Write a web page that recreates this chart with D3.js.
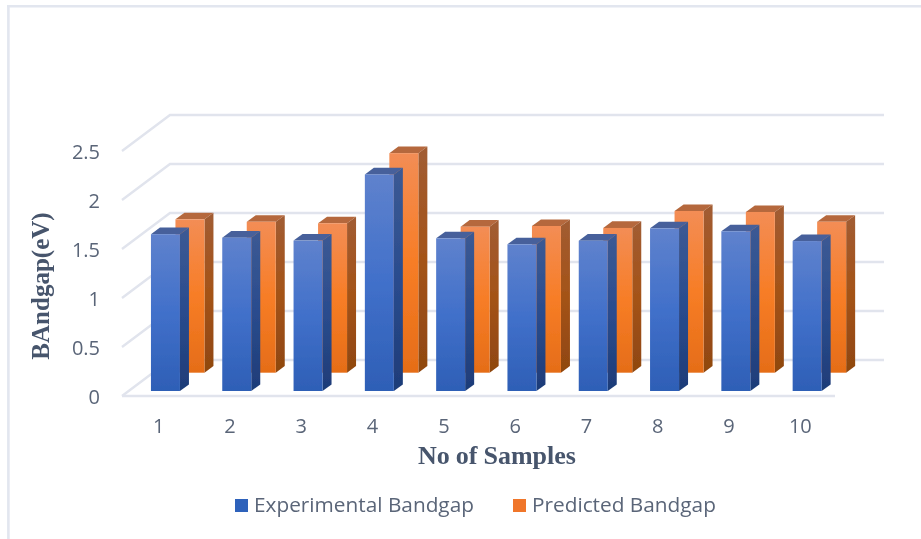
<!DOCTYPE html>
<html><head><meta charset="utf-8">
<script src="https://cdn.jsdelivr.net/npm/d3@7"></script>
<style>html,body{margin:0;background:#fff}svg{display:block}text{fill:#5a6578}</style></head>
<body><svg id="c" width="921" height="539"></svg>
<script>
const categories = ["1","2","3","4","5","6","7","8","9","10"];
const experimental = [1.60,1.565,1.535,2.21,1.558,1.497,1.534,1.66,1.63,1.53];
const predicted = [1.565,1.54,1.525,2.24,1.49,1.497,1.477,1.65,1.64,1.54];
const yTicks = [0,0.5,1,1.5,2,2.5];
const seriesNames = ["Experimental Bandgap","Predicted Bandgap"];

const svg=d3.select("#c");
const depthX=48, depthY=-36;
const barDX=9, barDY=-6.6;
const rowDX=24.5, rowDY=-18.3;
const x=d3.scaleBand().domain(categories).range([122,835]);
const yFront=d3.scaleLinear().domain([0,2.5]).range([396,151]);
const barW=29, barBase=391, barShift=7.8, labelShift=1;
const barH=v=>yFront(0)-yFront(v);

const defs=svg.append("defs");
function grad(id,stops){
  const g=defs.append("linearGradient").attr("id",id).attr("x1",0).attr("x2",0).attr("y1",0).attr("y2",1);
  stops.forEach(([o,c])=>g.append("stop").attr("offset",o).attr("stop-color",c));
}
grad("bf",[[0,"#5f82cd"],[0.5,"#4170ca"],[1,"#2e5fb6"]]);
grad("bs",[[0,"#3c5a94"],[0.5,"#2a4c8e"],[1,"#1e3c78"]]);
grad("of",[[0,"#f38d55"],[0.5,"#f77d26"],[1,"#e56d18"]]);
grad("os",[[0,"#a15c33"],[0.5,"#a45318"],[1,"#8f4710"]]);
defs.append("filter").attr("id","soft").attr("x","-5%").attr("y","-5%").attr("width","110%").attr("height","110%")
  .append("feGaussianBlur").attr("stdDeviation",0.45);

const root=svg.append("g").attr("filter","url(#soft)");
root.append("rect").attr("width",921).attr("height",539).attr("fill","#fff");

// frame
root.append("line").attr("x1",7).attr("x2",921).attr("y1",6.3).attr("y2",6.3).attr("stroke","#e2e6ef").attr("stroke-width",2.6);
root.append("line").attr("x1",8.4).attr("x2",8.4).attr("y1",5).attr("y2",539).attr("stroke","#e2e6ef").attr("stroke-width",2.6);

// gridlines
const grid=root.append("g").attr("fill","none").attr("stroke","#e1e4ed").attr("stroke-width",2.4);
yTicks.forEach(t=>{
  const y=yFront(t);
  grid.append("path").attr("d",d3.line()([[122,y],[122+depthX,y+depthY],[884,y+depthY]]));
});
grid.append("line").attr("x1",122).attr("x2",835).attr("y1",396).attr("y2",396);

function bar(g,xl,base,h,ids,topCol){
  const top=base-h;
  g.append("path").attr("d",d3.line()([[xl,top],[xl+barDX,top+barDY],[xl+barW+barDX,top+barDY],[xl+barW,top]])+"Z").attr("fill",topCol);
  g.append("path").attr("d",d3.line()([[xl+barW,top],[xl+barW+barDX,top+barDY],[xl+barW+barDX,base+barDY],[xl+barW,base]])+"Z").attr("fill",`url(#${ids[1]})`);
  g.append("rect").attr("x",xl).attr("y",top).attr("width",barW).attr("height",h).attr("fill",`url(#${ids[0]})`);
}
const g=root.append("g");
categories.forEach((c,i)=>{
  const xl=x(c)+(x.bandwidth()-barW)/2+rowDX+barShift;
  bar(g,xl,barBase+rowDY,barH(predicted[i]),["of","os"],"#b5683c");
});
categories.forEach((c,i)=>{
  const xl=x(c)+(x.bandwidth()-barW)/2+barShift;
  bar(g,xl,barBase,barH(experimental[i]),["bf","bs"],"#46619b");
});

const tickFont='"Open Sans",sans-serif';
const serif='"Liberation Serif",serif';
root.append("g").selectAll("text").data(yTicks).join("text")
  .attr("x",100).attr("y",t=>yFront(t)+7.5).attr("text-anchor","end")
  .attr("font-family",tickFont).attr("font-size",20).text(d=>d);
root.append("g").selectAll("text").data(categories).join("text")
  .attr("x",c=>x(c)+x.bandwidth()/2+labelShift).attr("y",433).attr("text-anchor","middle")
  .attr("font-family",tickFont).attr("font-size",20).text(d=>d);
root.append("text").attr("transform","translate(49,286) rotate(-90)").attr("text-anchor","middle")
  .attr("font-family",serif).attr("font-weight","bold").attr("font-size",25).style("fill","#46546c").text("BAndgap(eV)");
root.append("text").attr("x",497).attr("y",463.5).attr("text-anchor","middle")
  .attr("font-family",serif).attr("font-weight","bold").attr("font-size",26).attr("word-spacing",-0.5).style("fill","#46546c").text("No of Samples");
const lg=root.append("g");
[[235,254,"#2f62bb"],[513,532,"#f0762a"]].forEach(([sx,tx,col],i)=>{
  lg.append("rect").attr("x",sx).attr("y",499).attr("width",13).attr("height",13).attr("fill",col);
  lg.append("text").attr("x",tx).attr("y",512).attr("font-family",tickFont).attr("font-size",20.8).text(seriesNames[i]);
});
</script></body></html>
